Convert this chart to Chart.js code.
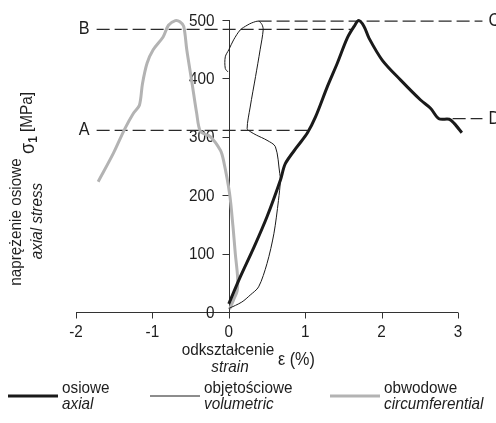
<!DOCTYPE html>
<html>
<head>
<meta charset="utf-8">
<script src="https://cdn.jsdelivr.net/npm/chart.js@4/dist/chart.umd.min.js"></script>
<style>
  body { margin: 0; background: #fff; }
  #box { width: 496px; height: 423px; }
</style>
</head>
<body>
<div id="box"><canvas id="wykres"></canvas></div>
<script>
// odkształcenie osiowe (axial)
let osioweX = [0, 0.15, 0.33, 0.50, 0.676, 0.74, 0.895, 1.026, 1.135, 1.29, 1.42, 1.55, 1.64, 1.70, 1.77, 1.835, 2.01, 2.25, 2.51, 2.64, 2.75, 2.885, 2.95, 3.05];
let osioweY = [14, 60, 111, 163, 226, 254, 283, 306, 334, 386, 426, 469, 489, 499, 489, 469, 431, 397, 363, 349, 331, 330, 323, 307];

// odkształcenie objętościowe (volumetric)
let objX = [0, 0.17, 0.28, 0.39, 0.50, 0.59, 0.65, 0.676, 0.667, 0.61, 0.50, 0.36, 0.28, 0.24, 0.28, 0.35, 0.41, 0.45, 0.435, 0.39, 0.30, 0.24, 0.15, 0.063, 0, -0.046, -0.046, -0.01];
let objY = [6, 17, 29, 43, 83, 134, 191, 226, 237, 283, 294, 303, 309, 314, 351, 403, 449, 483, 492, 498, 495, 491, 483, 466, 449, 437, 417, 411];

// odkształcenie obwodowe (circumferential)
let obwX = [0.01, 0.06, 0.11, 0.115, 0.085, 0.055, 0.01, -0.07, -0.11, -0.24, -0.37, -0.42, -0.48, -0.55, -0.59, -0.64, -0.70, -0.79, -0.86, -0.99, -1.07, -1.13, -1.17, -1.25, -1.36, -1.51, -1.71];
let obwY = [5, 20, 37, 60, 100, 146, 203, 260, 277, 300, 309, 340, 391, 449, 489, 497, 499, 491, 471, 449, 426, 391, 354, 340, 314, 272, 223];

// linie przerywane A, B, C, D
let punkty = ["A", "B", "C", "D"];
let punktyY = [311, 484, 498, 331];
let punktyOd = [-1.73, -1.73, 0.39, 2.93];
let punktyDo = [1.03, 1.62, 3.32, 3.32];

let tickiX = [-2, -1, 0, 1, 2, 3];
let tickiY = [0, 100, 200, 300, 400, 500];

let nazwyPL = ["osiowe", "objętościowe", "obwodowe"];
let nazwyEN = ["axial", "volumetric", "circumferential"];

const FONT = "'Liberation Sans', Arial, sans-serif";
const WASKI = 0.9; // zwezenie tekstu (font typu condensed)

function pary(xs, ys) {
    return xs.map((x, i) => ({ x: x, y: ys[i] }));
}

// tekst zwezony w poziomie
function napis(ctx, txt, x, y) {
    ctx.save();
    ctx.translate(x, y);
    ctx.scale(WASKI, 1);
    ctx.fillText(txt, 0, 0);
    ctx.restore();
}

function szer(ctx, txt) {
    return ctx.measureText(txt).width * WASKI;
}

let datasets = [
    { label: nazwyPL[0], data: pary(osioweX, osioweY), borderColor: "#1a1a1a", borderWidth: 3, tension: 0.3, order: 1 },
    { label: nazwyPL[1], data: pary(objX, objY), borderColor: "#1a1a1a", borderWidth: 1, tension: 0.3, order: 2 },
    { label: nazwyPL[2], data: pary(obwX, obwY), borderColor: "#b3b3b3", borderWidth: 3, tension: 0.3, order: 3 }
];

punkty.forEach((p, i) => {
    datasets.push({
        label: p,
        data: [{ x: punktyOd[i], y: punktyY[i] }, { x: punktyDo[i], y: punktyY[i] }],
        borderColor: "#2a2a2a",
        borderWidth: 1.2,
        borderDash: [13, 5],
        tension: 0,
        order: 4
    });
});

datasets.forEach(d => {
    d.showLine = true;
    d.pointRadius = 0;
    d.fill = false;
    d.clip = false;
});

// osie, opisy i legenda rysowane recznie
const osie = {
    id: "osie",
    beforeDatasetsDraw(chart) {
        const ctx = chart.ctx;
        const sx = chart.scales.x, sy = chart.scales.y;
        const x0 = Math.round(sx.getPixelForValue(0)) + 0.5;
        const y0 = Math.round(sy.getPixelForValue(0)) + 0.5;
        ctx.save();
        ctx.strokeStyle = "#333";
        ctx.lineWidth = 1;
        ctx.beginPath();
        ctx.moveTo(sx.getPixelForValue(-2), y0);
        ctx.lineTo(sx.getPixelForValue(3), y0);
        ctx.moveTo(x0, y0);
        ctx.lineTo(x0, sy.getPixelForValue(500));
        tickiX.forEach(t => {
            let px = Math.round(sx.getPixelForValue(t)) + 0.5;
            ctx.moveTo(px, y0);
            ctx.lineTo(px, y0 + 6);
        });
        tickiY.forEach(t => {
            let py = Math.round(sy.getPixelForValue(t)) + 0.5;
            ctx.moveTo(x0, py);
            ctx.lineTo(x0 - 7, py);
        });
        ctx.stroke();

        ctx.fillStyle = "#1e1e1e";
        ctx.font = "17px " + FONT;
        ctx.textAlign = "center";
        ctx.textBaseline = "top";
        tickiX.forEach(t => {
            napis(ctx, String(t), sx.getPixelForValue(t), y0 + 11);
        });
        ctx.textAlign = "right";
        ctx.textBaseline = "middle";
        tickiY.forEach(t => {
            napis(ctx, String(t), x0 - 15, sy.getPixelForValue(t) + 1);
        });
        ctx.restore();
    },
    afterDraw(chart) {
        const ctx = chart.ctx;
        const sx = chart.scales.x, sy = chart.scales.y;
        ctx.save();
        ctx.fillStyle = "#1e1e1e";

        // litery A-D
        ctx.font = "18px " + FONT;
        ctx.textBaseline = "middle";
        punkty.forEach((p, i) => {
            let py = sy.getPixelForValue(punktyY[i]);
            if (punktyOd[i] < 0) {
                ctx.textAlign = "right";
                napis(ctx, p, sx.getPixelForValue(punktyOd[i]) - 7, py);
            } else {
                ctx.textAlign = "left";
                napis(ctx, p, sx.getPixelForValue(punktyDo[i]) + 6, py);
            }
        });

        // opis osi x
        ctx.textAlign = "center";
        ctx.font = "17px " + FONT;
        napis(ctx, "odkształcenie", 228, 350);
        ctx.font = "italic 17px " + FONT;
        napis(ctx, "strain", 230, 367);
        ctx.textAlign = "left";
        ctx.font = "18px " + FONT;
        napis(ctx, "ε (%)", 278, 360);

        // opis osi y
        ctx.save();
        ctx.translate(16, 222);
        ctx.rotate(-Math.PI / 2);
        ctx.textAlign = "center";
        ctx.font = "17px " + FONT;
        napis(ctx, "naprężenie osiowe", 0, 0);
        ctx.restore();

        ctx.save();
        ctx.translate(37, 221);
        ctx.rotate(-Math.PI / 2);
        ctx.textAlign = "center";
        ctx.font = "italic 17px " + FONT;
        napis(ctx, "axial stress", 0, 0);
        ctx.restore();

        ctx.save();
        ctx.translate(28, 123);
        ctx.rotate(-Math.PI / 2);
        ctx.textAlign = "left";
        ctx.font = "20px " + FONT;
        let wS = szer(ctx, "σ");
        ctx.font = "bold 13px " + FONT;
        let w1 = szer(ctx, "1");
        ctx.font = "17px " + FONT;
        let wM = szer(ctx, " [MPa]");
        let u = -(wS + w1 + wM) / 2;
        ctx.font = "20px " + FONT;
        napis(ctx, "σ", u, 0);
        ctx.font = "bold 13px " + FONT;
        napis(ctx, "1", u + wS, 5);
        ctx.font = "17px " + FONT;
        napis(ctx, " [MPa]", u + wS + w1, -1);
        ctx.restore();

        // legenda
        let legX = [8, 150, 330];
        for (let i = 0; i < 3; i++) {
            let ds = chart.data.datasets[i];
            ctx.strokeStyle = ds.borderColor;
            ctx.lineWidth = ds.borderWidth;
            ctx.beginPath();
            ctx.moveTo(legX[i], 396);
            ctx.lineTo(legX[i] + 50, 396);
            ctx.stroke();
            ctx.fillStyle = "#1e1e1e";
            ctx.textAlign = "left";
            ctx.font = "17px " + FONT;
            napis(ctx, nazwyPL[i], legX[i] + 54, 388);
            ctx.font = "italic 17px " + FONT;
            napis(ctx, nazwyEN[i], legX[i] + 54, 404);
        }
        ctx.restore();
    }
};

let wykres = new Chart(document.getElementById("wykres").getContext("2d"), {
    type: "scatter",
    data: { datasets: datasets },
    options: {
        responsive: true,
        maintainAspectRatio: false,
        animation: false,
        layout: { padding: { left: 76, right: 38, top: 20, bottom: 111 } },
        plugins: { legend: { display: false }, tooltip: { enabled: false } },
        scales: {
            x: { type: "linear", min: -2, max: 3, display: false },
            y: { type: "linear", min: 0, max: 500, display: false }
        }
    },
    plugins: [osie]
});
</script>
</body>
</html>
